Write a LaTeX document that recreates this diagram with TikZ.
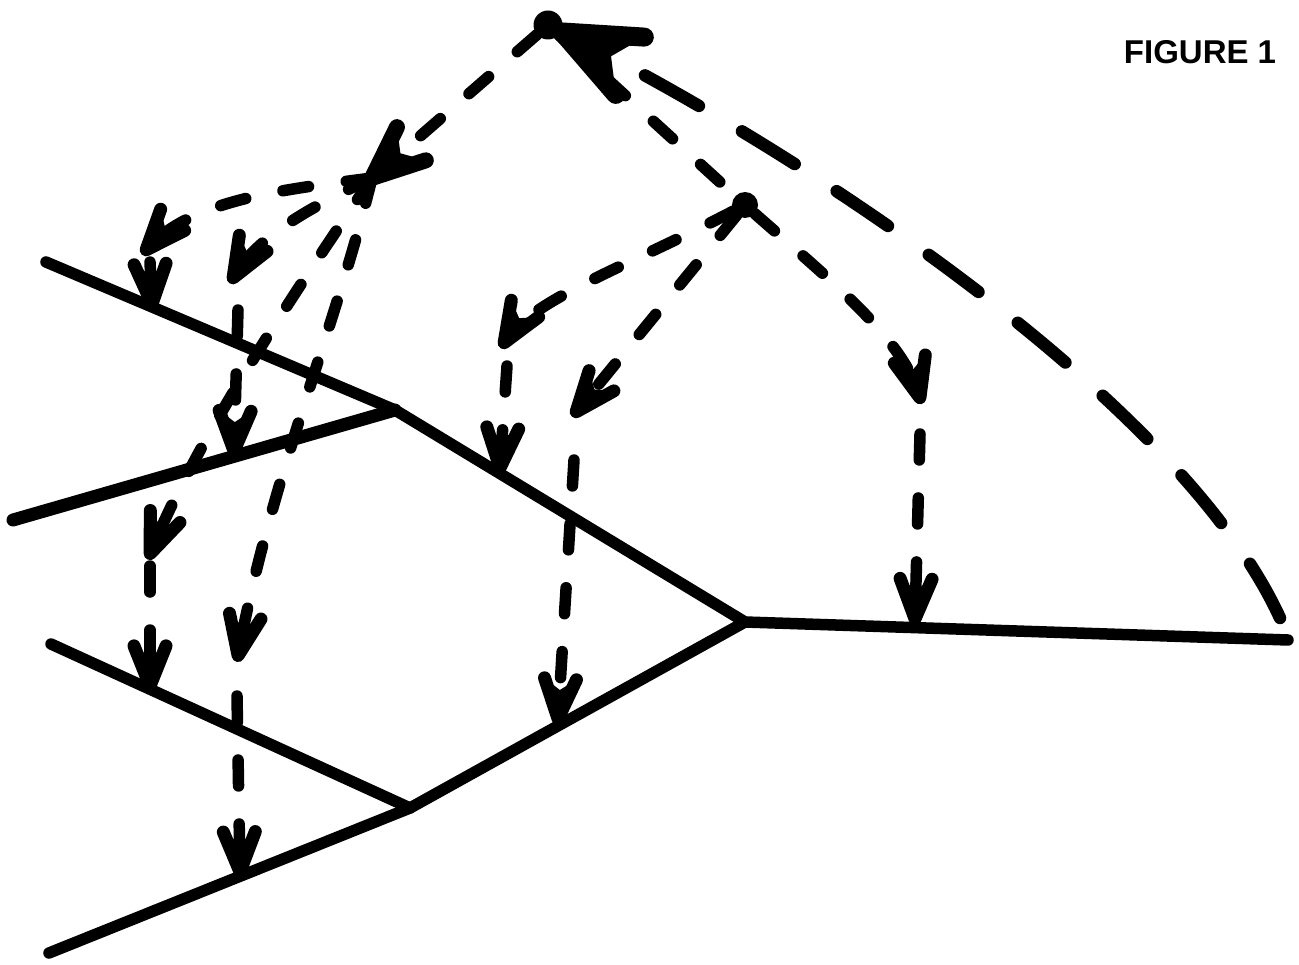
\documentclass[tikz,border=0pt]{standalone}
\usepackage{fontspec}
\newfontfamily\labelfont{Liberation Sans}
\usetikzlibrary{decorations.markings}
\begin{document}
\begin{tikzpicture}[x=1pt,y=-1pt,
  branch/.style={line width=11.5pt,line cap=round,line join=round},
  gene/.style={line width=11.5pt,line cap=round,dash pattern=on 26pt off 38pt},
  outer/.style={line width=12.5pt,line cap=round,dash pattern=on 62pt off 50pt},
  vhead/.style n args={3}{postaction={decorate,decoration={markings,
      mark=at position 0.999 with {
        \draw[solid,line width=#3,line cap=round,line join=round]
          (-#1,#2) -- (0pt,0pt) -- (-#1,-#2);
        \fill[solid] (3pt,0pt) -- (-#1,#2) -- (-0.72*#1,0pt) -- (-#1,-#2) -- cycle;}}}},
  ytip/.style={vhead={40pt}{16pt}{13pt}},
  jtip/.style={vhead={52pt}{22pt}{16pt}},
  bigtip/.style={vhead={76pt}{32pt}{19pt}},
  dot/.style={circle,fill=black,inner sep=0pt}
]
\useasboundingbox (0,0) rectangle (1299,965);

% species tree
\coordinate (l1) at (46,262);
\coordinate (l2) at (13,520);
\coordinate (l3) at (51,644);
\coordinate (l4) at (49,953);
\coordinate (B) at (395,410);
\coordinate (C) at (410,808);
\coordinate (A) at (745,622);
\coordinate (R) at (1288,640);
\draw[branch] (l1) -- (B) -- (A) -- (R);
\draw[branch,line width=13pt] (l2) -- (B);
\draw[branch] (l3) -- (C) -- (A);
\draw[branch] (l4) -- (C);

% gene tree nodes
\node[dot,minimum size=29pt] (T) at (548,25) {};
\node[dot,minimum size=26pt] (D) at (745,205) {};
\coordinate (J) at (372,178);
\coordinate (Rg) at (1280,618);

% outer lineage
\draw[outer,bigtip] (Rg) .. controls (1180,400) and (800,150) .. (T);

% from top node
\draw[gene] (T) -- (D);
\draw[gene,jtip] (T) -- (J);

% lineages from J
\coordinate (a1) at (146,250);
\coordinate (a1b) at (150,262);
\coordinate (e1) at (152,304);
\draw[gene,ytip] (J) .. controls (280,190) and (190,200) .. (a1);
\draw[gene,ytip] (a1b) -- (e1);

\coordinate (a2) at (233,278);
\coordinate (a2b) at (238,310);
\coordinate (e2) at (234,451);
\draw[gene,ytip] (J) .. controls (300,212) and (255,240) .. (a2);
\draw[gene,ytip] (a2b) -- (e2);

\coordinate (a3) at (150,554);
\coordinate (a3b) at (150,566);
\coordinate (e3) at (150,686);
\draw[gene,ytip] (J) .. controls (310,270) and (200,430) .. (a3);
\draw[gene,ytip] (a3b) -- (e3);

\coordinate (a4) at (238,656);
\coordinate (a4b) at (237,696);
\coordinate (e4) at (240,872);
\draw[gene,ytip] (J) .. controls (335,330) and (270,480) .. (a4);
\draw[gene,ytip] (a4b) -- (e4);

% lineages from D
\coordinate (a5) at (504,343);
\coordinate (a5b) at (507,366);
\coordinate (e5) at (500,468);
\draw[gene,ytip] (D) .. controls (620,270) and (530,300) .. (a5);
\draw[gene,ytip] (a5b) -- (e5);

\coordinate (a6) at (576,412);
\coordinate (a6b) at (574,460);
\coordinate (e6) at (558,719);
\draw[gene,ytip] (D) -- (a6);
\draw[gene,ytip] (a6b) -- (e6);

\coordinate (a7) at (920,398);
\coordinate (a7b) at (920,434);
\coordinate (e7) at (915,619);
\draw[gene,ytip] (D) .. controls (830,280) and (905,340) .. (a7);
\draw[gene,ytip] (a7b) -- (e7);

\node[font=\labelfont\bfseries\fontsize{33}{33}\selectfont] (fig) at (1200,52) {FIGURE 1};
\end{tikzpicture}
\end{document}
